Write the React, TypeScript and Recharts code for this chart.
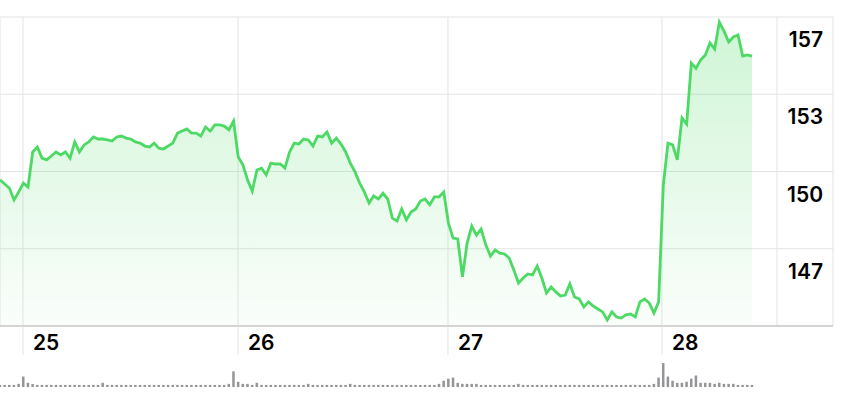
import {
  ComposedChart,
  BarChart,
  Area,
  Bar,
  XAxis,
  YAxis,
  CartesianGrid,
  ReferenceLine,
} from 'recharts';

// Prices, one point per interval
const prices = [
  150.13, 149.95, 149.77, 149.25, 149.6, 149.99, 149.82, 151.36, 151.58, 151.09,
  151.01, 151.18, 151.36, 151.23, 151.36, 151.09, 151.8, 151.36, 151.67, 151.8,
  152.02, 151.93, 151.93, 151.89, 151.84, 152.02, 152.06, 151.97, 151.93, 151.8,
  151.75, 151.62, 151.58, 151.75, 151.53, 151.49, 151.62, 151.75, 152.19, 152.28,
  152.37, 152.19, 152.19, 152.06, 152.46, 152.28, 152.55, 152.55, 152.5, 152.33,
  152.72, 151.14, 150.79, 150.13, 149.64, 150.57, 150.65, 150.35, 150.87, 150.83,
  150.83, 150.65, 151.36, 151.75, 151.71, 151.93, 151.89, 151.62, 152.06, 152.02,
  152.24, 151.75, 151.97, 151.71, 151.36, 150.87, 150.48, 149.99, 149.6, 149.11,
  149.42, 149.29, 149.54, 149.29, 148.45, 148.32, 148.85, 148.37, 148.72, 148.85,
  149.2, 149.29, 149.03, 149.38, 149.38, 149.6, 148.23, 147.57, 147.53, 145.86,
  147.35, 148.1, 147.7, 147.97, 147.27, 146.78, 147.05, 146.91, 146.87, 146.69,
  146.17, 145.59, 145.81, 145.99, 145.95, 146.34, 145.81, 145.15, 145.42, 145.2,
  145.02, 145.06, 145.55, 144.98, 144.89, 144.54, 144.76, 144.58, 144.45, 144.32,
  143.97, 144.32, 144.1, 144.05, 144.19, 144.23, 144.1, 144.76, 144.89, 144.71,
  144.27, 144.76, 149.9, 151.75, 151.67, 151.01, 152.86, 152.59, 155.27, 155.04,
  155.41, 155.63, 156.16, 155.89, 157.08, 156.68, 156.2, 156.42, 156.51, 155.58,
  155.63, 155.58,
];

// Volume, same intervals (relative units)
const volumes = [
  2, 2, 2, 2, 3, 10, 4, 3, 2, 2,
  2, 2, 2, 2, 2, 2, 2, 2, 2, 2,
  2, 2, 4, 2, 2, 2, 2, 2, 2, 2,
  2, 2, 2, 2, 2, 2, 2, 2, 2, 2,
  2, 2, 2, 2, 2, 2, 2, 2, 2, 3,
  15, 5, 3, 3, 2, 4, 2, 2, 2, 2,
  2, 2, 2, 2, 2, 2, 3, 2, 2, 2,
  2, 2, 2, 2, 2, 3, 2, 2, 2, 2,
  2, 2, 2, 2, 2, 2, 2, 2, 2, 2,
  2, 2, 2, 2, 3, 6, 8, 9, 4, 3,
  3, 3, 3, 2, 2, 2, 2, 2, 2, 2,
  2, 3, 2, 2, 2, 2, 2, 2, 2, 2,
  2, 2, 2, 2, 2, 2, 2, 2, 2, 2,
  2, 2, 2, 2, 2, 2, 2, 2, 2, 2,
  3, 9, 23, 10, 6, 4, 4, 5, 8, 11,
  4, 4, 4, 3, 4, 3, 3, 3, 2, 2,
  2, 2,
];

const dayLabels = ['25', '26', '27', '28'];
const dayStarts = [4.92, 50.95, 95.9, 141.7];

const priceGrid = [143.7, 147.1, 150.5, 153.9, 157.3];
const priceLabels = ['', '147', '150', '153', '157'];

const X_MAX = 178.33;
const SEPARATOR = 166.34;

const GREEN = '#4cd964';
const GRID = '#e3e3e3';
const FONT = 'Inter, "Liberation Sans", sans-serif';

const data = prices.map((price, i) => ({ i, price, vol: volumes[i] }));

const DayTick = (props: any) => {
  const idx = dayStarts.indexOf(props.payload.value);
  return (
    <text x={props.x + 10} y={350} textAnchor="start" fontSize={21} fontWeight={600} fill="#000" fontFamily={FONT}>
      {dayLabels[idx]}
    </text>
  );
};

const PriceTick = (props: any) => {
  const label = priceLabels[priceGrid.indexOf(props.payload.value)];
  if (!label) return <g />;
  return (
    <text x={823} y={props.y + 30} textAnchor="end" fontSize={21} fontWeight={600} fill="#000" fontFamily={FONT}>
      {label}
    </text>
  );
};

export default function App() {
  return (
    <div style={{ position: 'fixed', left: 0, top: 0, width: 841, height: 400, background: '#fff' }}>
      <div style={{ position: 'absolute', left: 0, top: 0 }}>
        <BarChart width={841} height={400} data={data} margin={{ top: 362, right: 8, left: 0, bottom: 13 }}>
          <XAxis type="number" dataKey="i" domain={[0, X_MAX]} hide allowDataOverflow />
          <YAxis domain={[0, 24]} hide allowDataOverflow />
          <Bar dataKey="vol" fill="#949499" barSize={2.5} isAnimationActive={false} />
        </BarChart>
      </div>
      <div style={{ position: 'absolute', left: 0, top: 0 }}>
        <ComposedChart width={841} height={400} data={data} margin={{ top: 17, right: 0, left: 0, bottom: 44 }}>
          <defs>
            <linearGradient id="priceFill" x1="0" y1="0" x2="0" y2="1">
              <stop offset="0%" stopColor={GREEN} stopOpacity={0.45} />
              <stop offset="100%" stopColor={GREEN} stopOpacity={0.04} />
            </linearGradient>
          </defs>
          <CartesianGrid stroke={GRID} />
          <XAxis
            type="number"
            dataKey="i"
            domain={[0, X_MAX]}
            ticks={dayStarts}
            interval={0}
            height={30}
            allowDataOverflow
            axisLine={{ stroke: '#b8b8b8' }}
            tickLine={{ stroke: GRID }}
            tickSize={29}
            tick={DayTick}
          />
          <YAxis
            orientation="right"
            width={8}
            domain={[143.7, 157.3]}
            ticks={priceGrid}
            interval={0}
            allowDataOverflow
            axisLine={false}
            tickLine={false}
            tick={PriceTick}
          />
          <ReferenceLine x={SEPARATOR} stroke={GRID} />
          <Area
            type="linear"
            dataKey="price"
            stroke={GREEN}
            strokeWidth={2.8}
            fill="url(#priceFill)"
            dot={false}
            activeDot={false}
            isAnimationActive={false}
          />
        </ComposedChart>
      </div>
    </div>
  );
}
